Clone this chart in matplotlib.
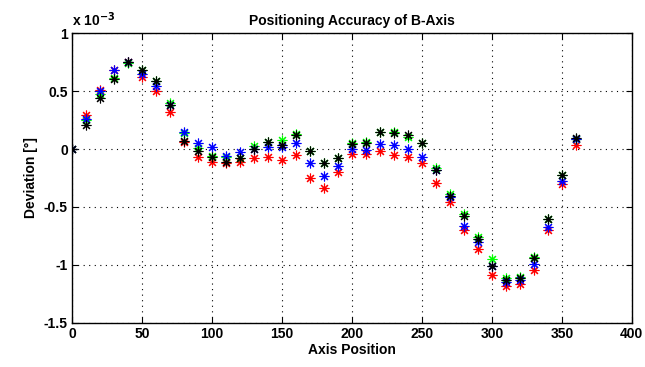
import numpy as np
import matplotlib
matplotlib.use('Agg')
import matplotlib.pyplot as plt

plt.rcParams['font.family'] = ['Liberation Sans', 'DejaVu Sans']

# axis positions [deg]
pos = np.arange(0, 361, 10)

# deviation in units of 1e-3 deg, one list per measurement run
dev_red = [0.0, 0.29, 0.51, 0.68, 0.75, 0.62, 0.50, 0.32, 0.06, -0.07,
           -0.11, -0.12, -0.11, -0.08, -0.07, -0.095, -0.05, -0.25, -0.34, -0.20,
           -0.04, -0.04, -0.02, -0.05, -0.07, -0.12, -0.29, -0.46, -0.70, -0.86,
           -1.09, -1.18, -1.16, -1.04, -0.70, -0.30, 0.035]
dev_green = [0.0, 0.25, 0.47, 0.61, 0.74, 0.68, 0.59, 0.40, 0.14, 0.01,
             -0.06, -0.07, -0.08, 0.03, 0.06, 0.08, 0.13, -0.02, -0.12, -0.08,
             0.05, 0.06, 0.15, 0.15, 0.10, 0.05, -0.16, -0.39, -0.56, -0.76,
             -0.95, -1.11, -1.10, -0.93, -0.60, -0.22, 0.09]
dev_blue = [0.0, 0.26, 0.50, 0.68, 0.75, 0.65, 0.54, 0.38, 0.15, 0.05,
            0.02, -0.06, -0.03, 0.0, 0.02, 0.02, 0.055, -0.12, -0.23, -0.15,
            0.0, -0.01, 0.04, 0.035, 0.0, -0.07, -0.18, -0.41, -0.66, -0.80,
            -1.01, -1.15, -1.13, -0.99, -0.67, -0.28, 0.09]
dev_black = [0.0, 0.21, 0.44, 0.60, 0.75, 0.68, 0.59, 0.38, 0.07, -0.02,
             -0.07, -0.11, -0.08, 0.0, 0.06, 0.035, 0.12, -0.02, -0.12, -0.08,
             0.04, 0.05, 0.15, 0.135, 0.12, 0.05, -0.18, -0.405, -0.58, -0.78,
             -1.01, -1.13, -1.11, -0.94, -0.60, -0.22, 0.095]

series = [(dev_red, 'red'), (dev_green, '#00ff00'), (dev_blue, 'blue'), (dev_black, 'black')]

fig = plt.figure(figsize=(6.45, 3.67), dpi=100)
ax = fig.add_axes([0.1116, 0.12, 0.868, 0.79])

for vals, col in series:
  ax.plot(pos, vals, linestyle='none', marker=(8, 2, 0), markersize=7,
          markeredgewidth=0.8, color=col)

ax.set_xlim(0, 400)
ax.set_ylim(-1.5, 1.0)
ax.set_xticks(np.arange(0, 401, 50))
ax.set_yticks([-1.5, -1, -0.5, 0, 0.5, 1])
ax.set_yticklabels(['-1.5', '-1', '-0.5', '0', '0.5', '1'])
ax.grid(True, color='black', linestyle=(0, (1, 4)), linewidth=0.8)
ax.tick_params(direction='in', length=4, top=True, right=True, labelsize=10, pad=3)
for lbl in ax.get_xticklabels() + ax.get_yticklabels():
  lbl.set_fontweight('bold')
for sp in ax.spines.values():
  sp.set_linewidth(1.0)

ax.set_title('Positioning Accuracy of B-Axis', fontsize=10, fontweight='bold', pad=6)
ax.set_xlabel('Axis Position', fontsize=10, fontweight='bold', labelpad=1)
ax.set_ylabel('Deviation [°]', fontsize=10, fontweight='bold', labelpad=4)
ax.text(0.0, 1.015, r'x 10$^{\mathbf{-3}}$', transform=ax.transAxes, fontsize=10,
        fontweight='bold', ha='left', va='bottom')

fig.savefig('out.png', dpi=100)
